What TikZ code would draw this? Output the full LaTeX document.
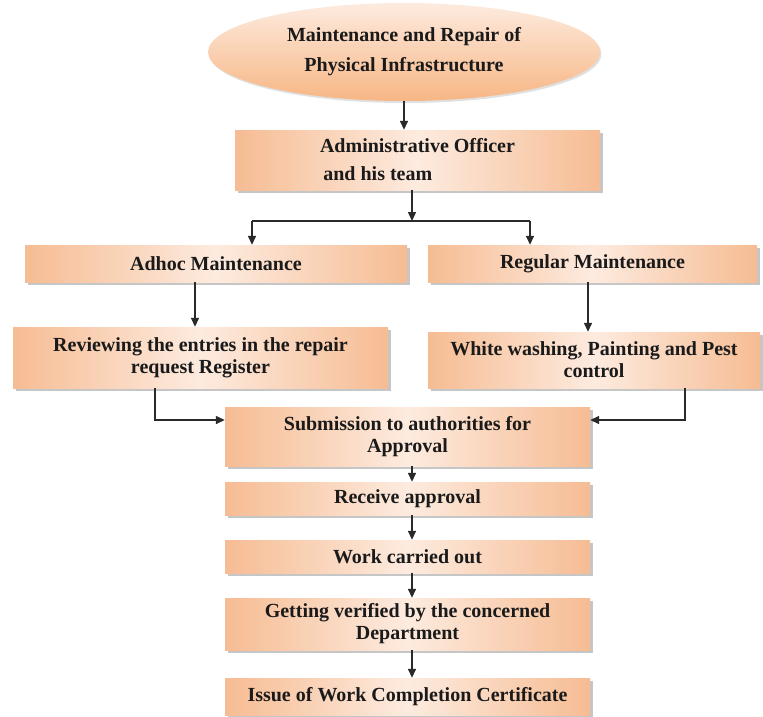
\documentclass[tikz,border=0pt]{standalone}
\usepackage{fontspec}
\setmainfont{Liberation Serif}
\usetikzlibrary{shapes.geometric,shadows,arrows.meta}
\definecolor{edgeor}{HTML}{F6BC93}
\definecolor{midor}{HTML}{FDEBDF}
\definecolor{txt}{HTML}{1A1A1A}
\definecolor{ln}{HTML}{2A2A2A}
\tikzset{
  boxst/.style={rectangle, inner sep=0pt, left color=edgeor, right color=edgeor, middle color=midor,
    drop shadow={shadow xshift=2.5pt, shadow yshift=-2.5pt, fill=black!50, opacity=0.45},
    text=txt, align=center, font=\fontsize{20}{22}\selectfont\bfseries},
  ellst/.style={ellipse, inner sep=0pt, top color=midor, bottom color=edgeor!90!orange,
    drop shadow={shadow xshift=1.5pt, shadow yshift=-2pt, fill=black!40, opacity=0.3},
    text=txt, align=center, font=\fontsize{20}{30}\selectfont\bfseries},
  arr/.style={draw=ln, line width=1.4pt, -{Triangle[length=9pt,width=8pt]}},
  lin/.style={draw=ln, line width=1.4pt}
}
\begin{document}
\begin{tikzpicture}[x=1pt,y=-1pt]
\useasboundingbox (0,0) rectangle (763,716);
\node[ellst, minimum width=392pt, minimum height=98pt] (ell) at (404,52) {Maintenance and Repair of\\Physical Infrastructure};
\node[boxst, minimum width=365pt, minimum height=60pt, align=left, font=\fontsize{20}{28}\selectfont\bfseries] (admin) at (417.5,160) {Administrative Officer\\\,and his team};
\node[boxst, minimum width=382pt, minimum height=37pt] (adhoc) at (216,263.5) {Adhoc Maintenance};
\node[boxst, minimum width=329pt, minimum height=37pt] (regular) at (592.5,263.5) {Regular Maintenance};
\node[boxst, minimum width=375pt, minimum height=61pt] (review) at (200.5,357.5) {Reviewing the entries in the repair\\request Register};
\node[boxst, minimum width=332pt, minimum height=56pt] (white) at (594,360) {White washing, Painting and Pest\\control};
\node[boxst, minimum width=365pt, minimum height=59pt] (submit) at (407.5,436.5) {Submission to authorities for\\Approval};
\node[boxst, minimum width=365pt, minimum height=33pt] (receive) at (407.5,498.5) {Receive approval};
\node[boxst, minimum width=365pt, minimum height=33pt] (work) at (407.5,556.5) {Work carried out};
\node[boxst, minimum width=365pt, minimum height=52pt] (verify) at (407.5,624) {Getting verified by the concerned\\Department};
\node[boxst, minimum width=365pt, minimum height=37pt] (issue) at (407.5,696.5) {Issue of Work Completion Certificate};
% helper coordinates
\coordinate (split) at (412,221);
\coordinate (sl) at (252,221);
\coordinate (sr) at (530,221);
\coordinate (xa) at (195,0);
\coordinate (xr) at (588,0);
\coordinate (xl) at (155,0);
\coordinate (xw) at (685,0);
\coordinate (jy) at (0,420);
\coordinate (xc) at (412,0);
% connectors
\draw[arr] (ell.south) -- (ell.south |- admin.north);
\draw[arr] (split |- admin.south) -- (split);
\draw[lin] (sl) -- (sr);
\draw[arr] (sl) -- (sl |- adhoc.north);
\draw[arr] (sr) -- (sr |- regular.north);
\draw[arr] (xa |- adhoc.south) -- (xa |- review.north);
\draw[arr] (xr |- regular.south) -- (xr |- white.north);
\draw[arr] (xl |- review.south) |- (submit.west |- jy);
\draw[arr] (xw |- white.south) |- (submit.east |- jy);
\draw[arr] (xc |- submit.south) -- (xc |- receive.north);
\draw[arr] (xc |- receive.south) -- (xc |- work.north);
\draw[arr] (xc |- work.south) -- (xc |- verify.north);
\draw[arr] (xc |- verify.south) -- (xc |- issue.north);
\end{tikzpicture}
\end{document}
